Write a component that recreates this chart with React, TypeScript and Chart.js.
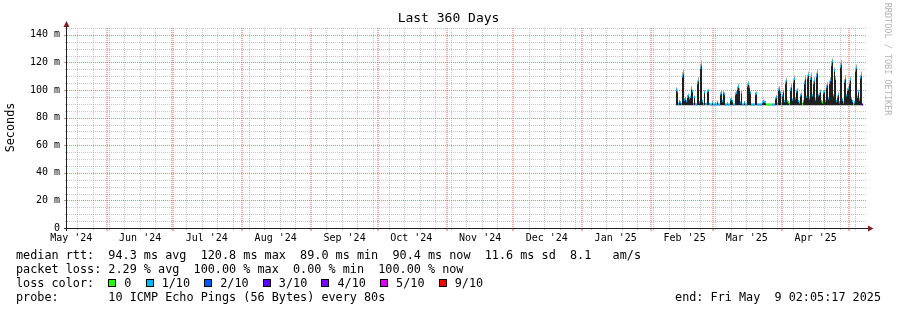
import React, { useEffect, useRef } from 'react';
import Chart from 'chart.js/auto';

// ---------------- data ----------------
const chartTitle = 'Last 360 Days';
const yAxisTitle = 'Seconds';
const watermarkText = 'RRDTOOL / TOBI OETIKER';

const graphEndUtc = Date.UTC(2025, 4, 9, 2, 5, 17);
const spanDays = 360;

const monthStarts = [
  '2024-05-01', '2024-06-01', '2024-07-01', '2024-08-01', '2024-09-01', '2024-10-01',
  '2024-11-01', '2024-12-01', '2025-01-01', '2025-02-01', '2025-03-01', '2025-04-01', '2025-05-01',
];
const monthLabels = [
  "May '24", "Jun '24", "Jul '24", "Aug '24", "Sep '24", "Oct '24",
  "Nov '24", "Dec '24", "Jan '25", "Feb '25", "Mar '25", "Apr '25", "May '25",
];

const yMaxMs = 145;
const yMinorStepMs = 5;
const yTickValues = [0, 20, 40, 60, 80, 100, 120, 140];
const yTickLabels = ['0', '20 m', '40 m', '60 m', '80 m', '100 m', '120 m', '140 m'];

// consolidated samples (one per 0.45 day) in days since graph start
const firstSampleDay = 274.275;
const sampleStepDays = 0.45;

// median rtt (ms)
const medianRtt = [
  100, 99, 90, 92, 91, 90, 110, 112, 93, 94,
  92, 95, 96, 94, 95, 101, 99, 90, 95, 90,
  89.5, 105, 107, 91, 116, 118, 92, 90, 98.5, 90,
  90, 99, 99.5, 90, 89.5, 89.5, 91, 89.5, 89.5, 90.5,
  89.5, 91.5, 89.5, 89.5, 97, 98, 92, 98, 97, 89.5,
  89.5, 90.5, 89.5, 89.5, 93, 93.5, 92, 89.5, 89.5, 97,
  98, 101, 102.5, 100, 91, 98, 89.5, 89.5, 91, 89.5,
  89.5, 103, 104.5, 102, 98, 89.5, 89.5, 89.5, 89.5, 97,
  97.5, 89.5, 89.5, 89.5, 89.5, 89.5, 91, 92, 91.5, 91,
  89.5, 89.5, 89.5, 89.5, 89.5, 89.5, 89.5, 89.5, 89.5, 94,
  95, 90, 100, 101, 98, 90, 96, 99, 92, 105,
  107, 92, 91, 90, 100, 102.5, 93, 106, 108, 94,
  99, 100, 92, 91, 96, 97, 90, 92, 105, 108.5,
  95, 109, 111, 94, 108, 110, 96, 105, 107, 93,
  110, 112.5, 96, 97, 99, 92, 91, 98, 99, 92,
  102, 104, 94, 105, 107, 118, 120.8, 96, 114, 108,
  92, 95, 97, 91, 117, 119, 93, 91, 106, 108.5,
  96, 100, 101, 105, 107.5, 94, 92, 90, 91, 114,
  116, 95, 99, 93, 109, 111, 89.5,
];

// upper edge of the ping smoke (ms)
const smokeTopRtt = [
  102, 101, 90.5, 93, 92, 90.5, 113, 115, 94, 95,
  93, 96.5, 97.5, 95, 96, 103, 100.5, 90.5, 96, 90.5,
  90, 107, 109.5, 92, 119, 121.5, 93, 90.5, 100, 90.5,
  90.5, 100.5, 101, 90.5, 90, 90, 92, 90, 90, 91,
  90, 92.5, 90, 90, 98.5, 99.5, 93, 100, 98.5, 90,
  90, 91, 90, 90, 94, 95, 93, 90, 90, 98.5,
  99.5, 102.5, 104.5, 101.5, 92, 99.5, 90, 90, 92, 90,
  90, 104.5, 106.5, 103.5, 99.5, 90, 90, 90, 90, 98.5,
  99, 90, 90, 90, 90, 90, 92, 93, 92.5, 92,
  90, 90, 90, 90, 90, 90, 90, 90, 90, 95,
  96.5, 90.5, 102, 103, 99.5, 90.5, 97.5, 100.5, 93, 107,
  109, 93, 92, 90.5, 102, 104.5, 94, 108, 110.5, 95,
  100.5, 101.5, 93, 92, 97.5, 98.5, 90.5, 93, 107, 111,
  96, 111, 113.5, 95, 110, 112.5, 97, 107, 109.5, 94,
  112.5, 115, 97, 98.5, 100.5, 93, 92, 99.5, 100.5, 93,
  104, 106, 95, 107, 109.5, 121, 123, 97, 116.5, 110,
  93, 96, 98.5, 92, 120, 122, 94, 92, 108, 111,
  97, 101.5, 103, 107, 110, 95, 93, 90.5, 92, 116.5,
  118.5, 96, 100.5, 94, 111, 113.5, 90,
];

// loss class per sample (index into lossLabels)
const lossIndex = [
  1, 1, 1, 1, 1, 1, 1, 1, 1, 1,
  1, 1, 1, 1, 1, 1, 1, 1, 1, 1,
  1, 1, 1, 1, 1, 1, 1, 1, 1, 1,
  1, 1, 1, 1, 1, 1, 1, 1, 1, 1,
  1, 1, 1, 1, 1, 1, 1, 1, 1, 1,
  1, 1, 1, 1, 1, 1, 1, 1, 1, 1,
  1, 1, 1, 1, 1, 1, 1, 1, 1, 1,
  1, 1, 1, 1, 1, 1, 1, 1, 1, 1,
  1, 1, 1, 1, 1, 1, 1, 1, 1, 1,
  0, 0, 0, 0, 0, 0, 1, 1, 1, 1,
  1, 1, 1, 1, 1, 1, 1, 1, 1, 1,
  1, 1, 0, 1, 1, 1, 1, 1, 1, 1,
  1, 1, 1, 0, 1, 1, 0, 1, 1, 1,
  1, 1, 1, 1, 1, 1, 1, 1, 1, 1,
  1, 1, 1, 1, 1, 1, 0, 1, 1, 1,
  1, 1, 1, 1, 1, 1, 1, 1, 1, 1,
  1, 1, 1, 1, 1, 1, 1, 0, 1, 1,
  1, 1, 1, 1, 1, 1, 1, 0, 1, 1,
  1, 1, 1, 1, 1, 1, 3,
];

const rttFloorMs = 89.0;

const lossLabels = ['0', '1/10', '2/10', '3/10', '4/10', '5/10', '9/10'];
const lossColors = ['#26ff00', '#00b8ff', '#0059ff', '#5e00ff', '#7e00ff', '#dd00ff', '#ff0000'];

const medianLegend = 'median rtt:  94.3 ms avg  120.8 ms max  89.0 ms min  90.4 ms now  11.6 ms sd  8.1   am/s';
const lossLegend = 'packet loss: 2.29 % avg  100.00 % max  0.00 % min  100.00 % now';
const lossColorTitle = 'loss color:';
const probeLabel = 'probe:';
const probeText = '10 ICMP Echo Pings (56 Bytes) every 80s';
const endText = 'end: Fri May  9 02:05:17 2025';

// ---------------- styling ----------------
const FONT = '"DejaVu Sans Mono", monospace';
const GRID = 'rgba(143,143,143,0.5)';
const MGRID = 'rgba(222,79,79,0.7)';
const MGRID_V = 'rgba(222,79,79,0.9)';
const AXIS = 'rgb(31,31,31)';
const ARROW = 'rgb(128,31,31)';
const LEGEND_SIZE = 11.8;

const DAY_MS = 86400000;
const graphStartUtc = graphEndUtc - spanDays * DAY_MS;
const dayOf = (iso: string) => (Date.parse(iso + 'T00:00:00Z') - graphStartUtc) / DAY_MS;

function monthStartDays() {
  return monthStarts.map(dayOf).filter((d) => d >= 0 && d <= spanDays);
}

function weekDays() {
  const majors = monthStarts.map(dayOf);
  const out: number[] = [];
  const firstMidnight = Math.ceil(graphStartUtc / DAY_MS) * DAY_MS;
  for (let t = firstMidnight; t <= graphEndUtc; t += DAY_MS) {
    const d = (t - graphStartUtc) / DAY_MS;
    if (new Date(t).getUTCDay() === 0 && !majors.some((m) => Math.abs(m - d) < 0.01)) out.push(d);
  }
  return out;
}

function labelTicks() {
  const ticks: any[] = [];
  monthStarts.forEach((iso, i) => {
    const ld = dayOf(iso) + 15;
    if (ld >= 0 && ld <= spanDays) ticks.push({ value: ld, text: monthLabels[i] });
  });
  return ticks;
}

const gridPlugin = {
  id: 'rrdGrid',
  beforeDatasetsDraw(chart: any) {
    const ctx = chart.ctx as CanvasRenderingContext2D;
    const xs = chart.scales.x;
    const ys = chart.scales.y;
    const { left, right, top, bottom } = chart.chartArea;
    ctx.save();
    ctx.lineWidth = 1;
    // horizontal grid
    for (let v = yMinorStepMs; v <= yMaxMs; v += yMinorStepMs) {
      const y = Math.round(ys.getPixelForValue(v)) + 0.5;
      const major = yTickValues.includes(v);
      ctx.strokeStyle = major ? MGRID : GRID;
      ctx.setLineDash([1, 1]);
      ctx.beginPath();
      ctx.moveTo(left, y);
      ctx.lineTo(right, y);
      ctx.stroke();
      ctx.setLineDash([]);
      ctx.beginPath();
      ctx.moveTo(left - (major ? 3 : 2), y);
      ctx.lineTo(left, y);
      ctx.stroke();
    }
    // vertical grid
    const drawV = (d: number, major: boolean) => {
      const p = xs.getPixelForValue(d);
      const x = major ? Math.round(p) : Math.floor(p) + 0.5;
      ctx.strokeStyle = major ? MGRID_V : GRID;
      ctx.setLineDash([1, 1]);
      ctx.beginPath();
      ctx.moveTo(x, top);
      ctx.lineTo(x, bottom);
      ctx.stroke();
      ctx.setLineDash([]);
      ctx.beginPath();
      ctx.moveTo(x, bottom);
      ctx.lineTo(x, bottom + (major ? 3 : 2));
      ctx.stroke();
    };
    weekDays().forEach((d) => drawV(d, false));
    monthStartDays().forEach((d) => drawV(d, true));
    ctx.restore();
  },
};

const decorPlugin = {
  id: 'rrdDecor',
  afterDraw(chart: any) {
    const ctx = chart.ctx as CanvasRenderingContext2D;
    const { left, right, top, bottom } = chart.chartArea;
    ctx.save();

    // axes
    ctx.strokeStyle = AXIS;
    ctx.lineWidth = 1;
    ctx.beginPath();
    ctx.moveTo(left - 0.5, bottom + 3);
    ctx.lineTo(left - 0.5, top - 3);
    ctx.moveTo(left - 3, bottom + 0.5);
    ctx.lineTo(right + 2, bottom + 0.5);
    ctx.stroke();

    // arrows
    ctx.fillStyle = ARROW;
    ctx.beginPath();
    ctx.moveTo(left - 0.5, top - 7);
    ctx.lineTo(left - 3.5, top - 1);
    ctx.lineTo(left + 2.5, top - 1);
    ctx.closePath();
    ctx.fill();
    ctx.beginPath();
    ctx.moveTo(right + 6.5, bottom + 0.5);
    ctx.lineTo(right + 1, bottom - 2.5);
    ctx.lineTo(right + 1, bottom + 3.5);
    ctx.closePath();
    ctx.fill();

    // title
    ctx.fillStyle = '#000';
    ctx.font = `13px ${FONT}`;
    ctx.textAlign = 'center';
    ctx.textBaseline = 'middle';
    ctx.fillText(chartTitle, chart.width / 2, 19);

    // y axis title
    ctx.save();
    ctx.translate(10.5, 127.5);
    ctx.rotate(-Math.PI / 2);
    ctx.font = `${LEGEND_SIZE}px ${FONT}`;
    ctx.fillText(yAxisTitle, 0, 0);
    ctx.restore();

    // watermark
    ctx.save();
    ctx.translate(887.5, 59);
    ctx.rotate(Math.PI / 2);
    ctx.fillStyle = '#b4b4b4';
    ctx.font = `8.5px ${FONT}`;
    ctx.fillText(watermarkText, 0, 0);
    ctx.restore();

    // legend
    ctx.font = `${LEGEND_SIZE}px ${FONT}`;
    ctx.textAlign = 'left';
    ctx.textBaseline = 'alphabetic';
    ctx.fillStyle = '#000';
    const cw = ctx.measureText('0').width;
    const x0 = 16;
    const lineY = [259, 273, 287, 301];
    ctx.fillText(medianLegend, x0, lineY[0]);
    ctx.fillText(lossLegend, x0, lineY[1]);
    ctx.fillText(lossColorTitle, x0, lineY[2]);
    let x = x0 + 13 * cw;
    lossLabels.forEach((lab, i) => {
      const bx = Math.round(x);
      ctx.fillStyle = lossColors[i];
      ctx.fillRect(bx, lineY[2] - 8, 8, 8);
      ctx.strokeStyle = '#000';
      ctx.strokeRect(bx + 0.5, lineY[2] - 7.5, 7, 7);
      ctx.fillStyle = '#000';
      const tx = x + 16;
      ctx.fillText(lab, tx, lineY[2]);
      x = tx + (lab.length + 2) * cw;
    });
    ctx.fillText(probeLabel, x0, lineY[3]);
    ctx.fillText(probeText, x0 + 13 * cw, lineY[3]);
    ctx.textAlign = 'right';
    ctx.fillText(endText, 881, lineY[3]);

    ctx.restore();
  },
};

export default function App() {
  const canvasRef = useRef<HTMLCanvasElement | null>(null);

  useEffect(() => {
    const canvas = canvasRef.current;
    if (!canvas) return;
    const xs = medianRtt.map((_, i) => firstSampleDay + i * sampleStepDays);
    const lossBand = 0.75;
    const barCommon = { barThickness: 1, grouped: false, borderWidth: 0, inflateAmount: 0 };

    const chart = new Chart(canvas, {
      type: 'bar',
      data: {
        datasets: [
          {
            ...barCommon,
            label: 'median rtt',
            data: xs.map((x, i) => ({ x, y: [medianRtt[i] - lossBand, medianRtt[i] + lossBand] })),
            backgroundColor: lossIndex.map((l) => lossColors[l]),
            order: 1,
          },
          {
            ...barCommon,
            label: 'smoke core',
            data: xs.map((x, i) => ({ x, y: [rttFloorMs, medianRtt[i]] })),
            backgroundColor: '#202020',
            order: 2,
          },
          {
            ...barCommon,
            label: 'smoke',
            data: xs.map((x, i) => ({ x, y: [medianRtt[i], smokeTopRtt[i]] })),
            backgroundColor: '#a8a8a8',
            order: 3,
          },
        ] as any,
      },
      options: {
        animation: false,
        responsive: false,
        devicePixelRatio: 1,
        events: [],
        layout: { padding: { left: 0, right: 30, top: 28, bottom: 0 }, autoPadding: false },
        plugins: { legend: { display: false }, tooltip: { enabled: false }, title: { display: false } },
        scales: {
          x: {
            type: 'linear',
            min: 0,
            max: spanDays,
            offset: false,
            border: { display: false },
            grid: { display: false, offset: false, drawTicks: false, tickLength: 0 },
            ticks: {
              autoSkip: false,
              maxRotation: 0,
              minRotation: 0,
              padding: 4,
              color: '#000',
              font: { family: FONT, size: 10 },
              callback: (_v: any, i: number, ticks: any[]) => ticks[i]?.text ?? '',
            },
            afterBuildTicks: (s: any) => {
              s.ticks = labelTicks();
            },
            afterFit: (s: any) => {
              s.height = 82;
            },
          },
          y: {
            type: 'linear',
            min: 0,
            max: yMaxMs,
            border: { display: false },
            grid: { display: false, drawTicks: false, tickLength: 0 },
            ticks: {
              autoSkip: false,
              padding: 7,
              color: '#000',
              font: { family: FONT, size: 10 },
              callback: (v: any) => {
                const k = yTickValues.indexOf(Number(v));
                return k >= 0 ? yTickLabels[k] : '';
              },
            },
            afterBuildTicks: (s: any) => {
              s.ticks = yTickValues.map((v) => ({ value: v }));
            },
            afterFit: (s: any) => {
              s.width = 67;
            },
          },
        },
      } as any,
      plugins: [gridPlugin, decorPlugin],
    });
    return () => chart.destroy();
  }, []);

  return (
    <div style={{ position: 'absolute', left: 0, top: 0, width: 897, height: 310, background: '#fff' }}>
      <canvas ref={canvasRef} width={897} height={310} style={{ display: 'block' }} />
    </div>
  );
}
